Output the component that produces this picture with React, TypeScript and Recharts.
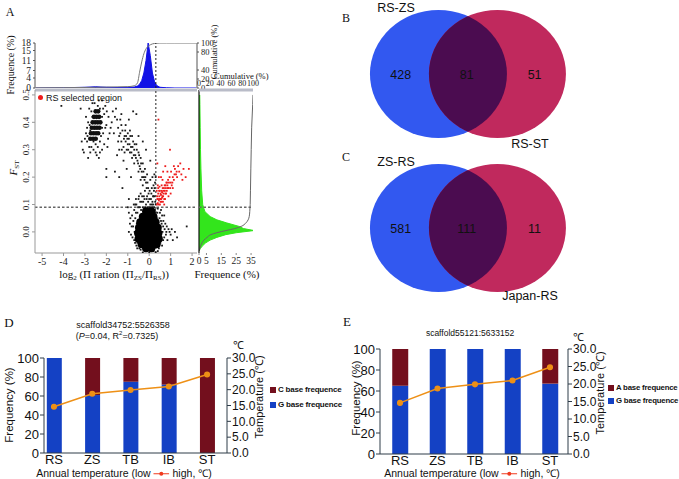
import React from "react";
import {
  Area,
  Bar,
  ComposedChart,
  Line,
  ReferenceLine,
  Scatter,
  ScatterChart,
  XAxis,
  YAxis,
} from "recharts";

const SERIF = '"Liberation Serif", "Times New Roman", serif';
const SANS = '"Liberation Sans", Arial, sans-serif';

// ---- panel A: histogram of log2 pi ratio (top) ----
const piBins = [-5.3, -4, -3, -2.5, -2, -1.5, -1, -0.7, -0.55, -0.45, -0.35, -0.25, -0.15, -0.05, 0.05, 0.15, 0.25, 0.35, 0.5, 0.8, 1.2, 2.2];
const piFreq = [0, 0.1, 0.3, 0.5, 0.3, 0.2, 0.3, 0.4, 0.8, 1.5, 3, 6, 11, 18, 13, 6, 2.5, 1, 0.3, 0.1, 0, 0];
const piCum = [0.5, 0.8, 1.2, 1.5, 2, 2.5, 3, 5, 11, 35, 58, 76, 87, 93, 96, 98, 99, 99.5, 100, 100, 100, 100];

// ---- panel A: histogram of Fst (right) ----
const fstBins = [-0.07, -0.06, -0.05, -0.04, -0.03, -0.02, -0.01, -0.003, 0.005, 0.012, 0.02, 0.033, 0.044, 0.056, 0.074, 0.09, 0.1, 0.15, 0.23, 0.3, 0.38, 0.465, 0.5];
const fstFreq = [0, 1, 2.5, 4.5, 7.5, 12, 18, 25, 37, 30, 27, 18.5, 12, 7.5, 4, 3, 2.5, 1.8, 1.3, 1, 0.8, 0.6, 0.5];
const fstCum = [0, 1.5, 3, 5.5, 9, 15, 22, 33, 50, 66, 78, 87, 91, 93, 94, 94.5, 94.8, 95.3, 96, 96.7, 97.5, 99.4, 100];

// ---- panel A: scatter (log2 pi ratio, Fst) ----
const windowsDense: [number, number][] = [
  [-0.15, -0.06], [0.1, -0.06],
  [-0.35, -0.045], [-0.1, -0.045], [0.15, -0.045], [0.35, -0.045],
  [-0.5, -0.025], [-0.25, -0.025], [0.0, -0.025], [0.25, -0.025], [0.45, -0.025],
  [-0.52, -0.005], [-0.3, -0.005], [-0.05, -0.005], [0.2, -0.005], [0.43, -0.005],
  [-0.48, 0.015], [-0.25, 0.015], [0.0, 0.015], [0.25, 0.015], [0.4, 0.015],
  [-0.42, 0.035], [-0.18, 0.035], [0.07, 0.035], [0.3, 0.035],
  [-0.3, 0.055], [-0.05, 0.055], [0.2, 0.055],
  [-0.15, 0.075], [0.1, 0.075],
];
const windowsCluster: [number, number][] = [
  [-2.75, 0.34], [-2.62, 0.34], [-2.5, 0.34],
  [-2.72, 0.36], [-2.6, 0.36], [-2.48, 0.36], [-2.38, 0.36],
  [-2.68, 0.38], [-2.56, 0.38], [-2.44, 0.38], [-2.32, 0.38],
  [-2.64, 0.4], [-2.52, 0.4], [-2.4, 0.4], [-2.28, 0.4],
  [-2.58, 0.42], [-2.46, 0.42], [-2.34, 0.42],
  [-2.5, 0.44], [-2.38, 0.44],
];
const windowsSparse: [number, number][] = [
  [-3.1, 0.3], [-2.95, 0.36], [-2.9, 0.33], [-2.85, 0.4], [-2.8, 0.31], [-2.75, 0.29], [-2.7, 0.44],
  [-2.6, 0.3], [-2.55, 0.47], [-2.5, 0.32], [-2.45, 0.28], [-2.4, 0.46], [-2.3, 0.33], [-2.3, 0.45],
  [-2.25, 0.4], [-2.2, 0.48], [-2.15, 0.36], [-2.1, 0.43], [-2.05, 0.46], [-2.0, 0.39], [-1.95, 0.31],
  [-2.35, 0.27], [-2.0, 0.23], [-2.65, 0.42], [-2.2, 0.3], [-1.9, 0.42], [-1.85, 0.36], [-2.9, 0.38],
  [-3.0, 0.34], [-2.35, 0.38],
  [-3.15, 0.33], [-3.05, 0.29], [-2.95, 0.42], [-2.85, 0.27], [-2.8, 0.45], [-2.75, 0.37], [-2.7, 0.31],
  [-2.65, 0.47], [-2.6, 0.33], [-2.45, 0.34], [-2.4, 0.31], [-2.35, 0.48], [-2.25, 0.35], [-2.2, 0.42],
  [-2.15, 0.45], [-2.1, 0.32], [-2.05, 0.38], [-1.98, 0.44], [-1.92, 0.34], [-2.3, 0.29], [-2.5, 0.29],
  [-2.78, 0.39], [-2.88, 0.35], [-2.2, 0.38], [-2.28, 0.42],
  [-1.7, 0.44], [-1.6, 0.42], [-1.55, 0.45], [-1.45, 0.38], [-1.4, 0.35], [-1.35, 0.41], [-1.3, 0.33],
  [-1.25, 0.37], [-1.2, 0.31], [-1.15, 0.35], [-1.1, 0.39], [-1.1, 0.33], [-1.05, 0.3], [-1.0, 0.36],
  [-1.0, 0.32], [-0.95, 0.34], [-0.9, 0.29], [-0.9, 0.37], [-0.85, 0.31], [-0.8, 0.35], [-0.8, 0.27],
  [-0.75, 0.33], [-0.7, 0.3], [-0.7, 0.25], [-0.65, 0.28], [-0.6, 0.32], [-0.6, 0.43], [-0.55, 0.26],
  [-0.5, 0.29], [-0.5, 0.22], [-0.45, 0.24], [-0.4, 0.27], [-0.4, 0.19], [-0.35, 0.22], [-0.3, 0.25],
  [-0.3, 0.17], [-0.25, 0.2], [-0.2, 0.15], [-0.2, 0.23], [-0.15, 0.18], [-0.1, 0.13], [-0.1, 0.21],
  [-0.05, 0.16], [0.0, 0.12], [0.05, 0.19], [0.1, 0.14], [0.15, 0.11], [0.2, 0.17], [0.25, 0.13],
  [0.3, 0.2], [0.3, 0.1], [-1.4, 0.3], [-1.2, 0.26], [-1.05, 0.23], [-0.85, 0.2], [-1.5, 0.28],
  [-1.8, 0.38], [-1.3, 0.43], [-0.95, 0.41], [-0.75, 0.44], [-0.5, 0.35], [-0.3, 0.33], [-0.15, 0.3],
  [-1.25, 0.16], [-0.95, 0.12], [-1.0, 0.09], [-0.65, 0.1], [0.05, 0.26], [-4.1, 0.46], [-3.2, 0.45],
  [-2.0, 0.2], [-1.6, 0.22], [-1.4, 0.2],
  [-1.75, 0.4], [-1.65, 0.36], [-1.5, 0.41], [-1.45, 0.33], [-1.35, 0.36], [-1.3, 0.39], [-1.28, 0.3],
  [-1.18, 0.34], [-1.15, 0.29], [-1.12, 0.37], [-1.08, 0.35], [-1.02, 0.34], [-0.98, 0.3], [-0.92, 0.32],
  [-0.88, 0.35], [-0.83, 0.29], [-0.78, 0.31], [-0.72, 0.28], [-0.68, 0.32], [-0.62, 0.27], [-0.58, 0.3],
  [-0.52, 0.25], [-0.47, 0.28], [-0.42, 0.23], [-0.38, 0.25], [-0.33, 0.2], [-0.27, 0.22], [-0.22, 0.19],
  [-0.18, 0.2], [-0.12, 0.16], [-0.08, 0.18], [-0.03, 0.14], [0.02, 0.15], [0.08, 0.12], [0.12, 0.16],
  [0.18, 0.13], [0.22, 0.15], [0.27, 0.18], [0.28, 0.11], [0.24, 0.21], [0.15, 0.2],
  [-0.9, 0.03], [-0.85, -0.01], [-0.8, 0.06], [-0.75, 0.02], [-0.7, -0.03], [-0.7, 0.08], [-0.65, 0.05],
  [-0.6, -0.05], [-0.6, 0.1], [-0.55, 0.07], [-0.5, 0.12], [-0.45, 0.09], [-0.4, 0.14], [-0.35, 0.11],
  [-0.3, 0.09], [-0.25, 0.13], [-0.15, 0.1], [-0.05, 0.11], [0.05, 0.1], [0.15, 0.09], [0.2, 0.13],
  [0.25, 0.16], [0.3, 0.07], [0.35, 0.05], [0.5, 0.07], [0.55, 0.04], [0.6, 0.06], [0.65, 0.02],
  [0.7, -0.02], [0.75, 0.03], [0.8, 0.0], [0.85, -0.03], [0.9, 0.01], [1.0, -0.01], [1.1, -0.03],
  [1.2, 0.0], [1.3, -0.02], [0.6, -0.05], [0.45, -0.06], [-0.4, -0.065], [-0.55, -0.04], [0.2, -0.07],
  [0.0, -0.075], [1.75, 0.02], [-0.95, 0.07], [0.55, 0.08], [0.7, 0.06], [0.4, 0.085],
  [-0.95, 0.0], [-0.88, 0.05], [-0.82, 0.02], [-0.78, -0.02], [-0.74, 0.04], [-0.72, 0.1], [-0.68, 0.0],
  [-0.66, -0.04], [-0.62, 0.07], [-0.62, 0.12], [-0.58, 0.03], [-0.56, -0.06], [-0.52, 0.09], [-0.48, 0.13],
  [-0.46, -0.06], [-0.42, 0.11], [-0.38, 0.08], [-0.33, 0.13], [-0.28, 0.11], [-0.22, 0.12], [-0.18, 0.09],
  [-0.12, 0.12], [-0.08, 0.09], [0.0, 0.09], [0.08, 0.09], [0.12, 0.1], [0.18, 0.1], [0.23, 0.09],
  [0.27, 0.08], [0.32, 0.06], [0.38, 0.07], [0.42, 0.04], [0.48, 0.05], [0.52, 0.02], [0.58, 0.03],
  [0.62, 0.0], [0.66, 0.04], [0.72, 0.01], [0.78, -0.01], [0.82, 0.02], [0.95, 0.0], [1.05, 0.01],
  [0.52, -0.04], [0.4, -0.07], [0.3, -0.075], [-0.3, -0.075], [-0.5, -0.05], [0.65, -0.03],
];
const windowsSelected: [number, number][] = [
  [0.36, 0.1], [0.38, 0.12], [0.4, 0.105], [0.42, 0.14], [0.45, 0.115], [0.47, 0.13], [0.5, 0.1],
  [0.5, 0.15], [0.52, 0.12], [0.55, 0.135], [0.57, 0.11], [0.6, 0.145], [0.6, 0.125], [0.63, 0.16],
  [0.65, 0.13], [0.68, 0.15], [0.7, 0.12], [0.72, 0.17], [0.75, 0.14], [0.78, 0.16], [0.8, 0.18],
  [0.82, 0.15], [0.85, 0.17], [0.88, 0.19], [0.9, 0.16], [0.95, 0.2], [1.0, 0.18], [1.02, 0.22],
  [1.05, 0.17], [1.1, 0.2], [1.15, 0.19], [1.2, 0.23], [1.25, 0.21], [1.3, 0.2], [1.35, 0.24],
  [1.4, 0.22], [1.5, 0.21], [1.55, 0.19], [1.6, 0.23], [1.7, 0.2], [1.85, 0.23], [1.45, 0.25],
  [0.97, 0.3], [0.43, 0.41], [0.55, 0.2], [0.65, 0.22], [0.75, 0.24], [0.4, 0.17], [0.45, 0.2],
  [0.35, 0.15], [0.38, 0.25], [0.7, 0.1], [0.9, 0.13], [1.0, 0.14], [1.1, 0.16], [0.62, 0.19],
  [1.15, 0.24], [0.85, 0.22], [0.48, 0.165], [0.58, 0.17],
  [0.37, 0.13], [0.41, 0.12], [0.44, 0.1], [0.46, 0.15], [0.49, 0.12], [0.53, 0.14], [0.56, 0.12],
  [0.59, 0.15], [0.62, 0.13], [0.66, 0.14], [0.69, 0.16], [0.73, 0.15], [0.76, 0.17], [0.79, 0.14],
  [0.83, 0.18], [0.87, 0.16], [0.92, 0.18], [0.98, 0.16], [1.08, 0.18], [1.18, 0.21], [1.28, 0.22],
  [0.42, 0.16], [0.53, 0.11], [0.64, 0.11], [0.74, 0.12],
];
const piTicks = [-5, -4, -3, -2, -1, 0, 1, 2];
const fstTicks = [0, 0.1, 0.2, 0.3, 0.4, 0.5];
const piCut = 0.31;
const fstCut = 0.09;

// ---- panels B and C: Venn counts ----
const vennB = { sets: ["RS-ZS", "RS-ST"], counts: [428, 81, 51] };
const vennC = { sets: ["ZS-RS", "Japan-RS"], counts: [581, 111, 11] };

// ---- panels D and E: base frequences and annual temperature ----
const stations = ["RS", "ZS", "TB", "IB", "ST"];
const annualTemp = [14.6, 18.7, 19.9, 21.0, 24.8];
const dGFreq = [100, 61, 75, 72, 0];
const dCFreq = [0, 39, 25, 28, 100];
const eGFreq = [65, 100, 100, 100, 67];
const eAFreq = [35, 0, 0, 0, 33];
const freqTicks = [0, 20, 40, 60, 80, 100];
const tempTicks = [0, 5, 10, 15, 20, 25, 30];

const X_MIN = -5.33;
const X_MAX = 2.23;
const Y_MIN = -0.077;
const Y_MAX = 0.518;

const BLUE_BAR = "#1441c4";
const RED_BAR = "#730f1d";
const ORANGE = "#ee9016";

const piTable = piBins.map((x, i) => ({ x, freq: piFreq[i], cum: piCum[i] }));
const fstTable = fstBins.map((y, i) => ({ y, freq: fstFreq[i], cum: fstCum[i] }));
const toPts = (arr: [number, number][]) => arr.map(([x, y]) => ({ x, y }));

function Txt({ x, y, size, font = SANS, rot = 0, weight = 400, italic = false, anchor = "center", spacing = 0, children }: any) {
  const tx = anchor === "left" ? "0" : "-50%";
  return (
    <div
      style={{
        position: "absolute",
        left: x,
        top: y,
        transform: `translate(${tx}, -50%) rotate(${rot}deg)`,
        fontSize: size,
        fontFamily: font,
        fontWeight: weight,
        fontStyle: italic ? "italic" : "normal",
        letterSpacing: spacing,
        whiteSpace: "nowrap",
        lineHeight: 1,
        color: "#111",
      }}
    >
      {children}
    </div>
  );
}

const subStyle = { fontSize: 7, lineHeight: 0, verticalAlign: "-2px" };

const dot = (r: number, fill: string) => (p: any) => <circle cx={p.cx} cy={p.cy} r={r} fill={fill} />;
const speck = (fill: string) => (p: any) => (
  <rect x={p.cx - 0.9} y={p.cy - 0.9} width={1.8} height={1.8} fill={fill} />
);

function FstTick(p: any) {
  const x = p.x - 1;
  return (
    <text x={x} y={p.y} transform={`rotate(-90 ${x} ${p.y})`} textAnchor="middle" fontSize={9} fontFamily={SERIF} fill="#222">
      {Number(p.payload.value).toFixed(1)}
    </text>
  );
}

function PanelA() {
  const serifTick = { fontSize: 9.5, fontFamily: SERIF, fill: "#222" };
  return (
    <>
      <div style={{ position: "absolute", left: 0, top: 30 }}>
        <ComposedChart width={240} height={70} data={piTable} margin={{ top: 13, right: 13, bottom: 12, left: 15 }}>
          <XAxis type="number" dataKey="x" domain={[X_MIN, X_MAX]} allowDataOverflow hide />
          <YAxis yAxisId="f" width={20} domain={[0, 18]} ticks={[0, 4, 7, 11, 15, 18]} allowDataOverflow interval={0}
            tick={serifTick} tickSize={2} axisLine={{ stroke: "#555" }} tickLine={{ stroke: "#555" }} />
          <YAxis yAxisId="c" orientation="right" width={30} domain={[0, 100]} ticks={[0, 20, 40, 80, 100]} allowDataOverflow interval={0}
            tick={{ ...serifTick, fontSize: 8.5 }} tickSize={2} axisLine={{ stroke: "#555" }} tickLine={{ stroke: "#555" }} />
          <Area yAxisId="f" dataKey="freq" type="linear" stroke="#1212e6" fill="#1212e6" fillOpacity={1} isAnimationActive={false} />
          <Line yAxisId="c" dataKey="cum" type="monotone" stroke="#777" strokeWidth={1} dot={false} isAnimationActive={false} />
          <ReferenceLine yAxisId="f" x={piCut} stroke="#222" strokeDasharray="2 2" />
        </ComposedChart>
      </div>

      <div style={{ position: "absolute", left: 0, top: 80 }}>
        <ScatterChart width={270} height={200} margin={{ top: 10, right: 73, bottom: 11, left: 10 }}>
          <XAxis type="number" dataKey="x" domain={[X_MIN, X_MAX]} allowDataOverflow ticks={piTicks} interval={0} height={16}
            tick={{ ...serifTick, fontSize: 10 }} tickSize={3} axisLine={{ stroke: "#999" }} tickLine={{ stroke: "#999" }} />
          <YAxis type="number" dataKey="y" domain={[Y_MIN, Y_MAX]} allowDataOverflow ticks={fstTicks} interval={0} width={25}
            tick={<FstTick />} tickSize={3} axisLine={{ stroke: "#999" }} tickLine={{ stroke: "#999" }} />
          <ReferenceLine y={Y_MAX} stroke="#b9bcc8" strokeWidth={3} />
          <Scatter data={toPts(windowsSparse)} shape={speck("#1a1a1a")} isAnimationActive={false} />
          <Scatter data={toPts(windowsCluster)} shape={dot(2.3, "#111")} isAnimationActive={false} />
          <Scatter data={toPts(windowsDense)} shape={dot(4, "#000")} isAnimationActive={false} />
          <Scatter data={toPts(windowsSelected)} shape={speck("#ee1c1c")} isAnimationActive={false} />
          <ReferenceLine x={piCut} stroke="#222" strokeDasharray="2 2" />
          <ReferenceLine y={fstCut} stroke="#666" strokeDasharray="2.5 2" strokeWidth={1.3} />
        </ScatterChart>
      </div>

      <div style={{ position: "absolute", left: 190, top: 70 }}>
        <ComposedChart width={80} height={210} layout="vertical" data={fstTable} margin={{ top: 8, right: 17, bottom: 12, left: 9 }}>
          <XAxis type="number" dataKey="freq" domain={[0, 36.3]} allowDataOverflow ticks={[0, 5, 15, 25, 35]} interval={0} height={15}
            tick={{ ...serifTick, fontSize: 9.5 }} tickSize={2} axisLine={false} tickLine={{ stroke: "#888" }} />
          <XAxis xAxisId="cum" orientation="top" type="number" domain={[0, 100]} allowDataOverflow ticks={[0, 20, 40, 60, 80, 100]} interval={0} height={12}
            tick={{ ...serifTick, fontSize: 8 }} tickSize={2} axisLine={{ stroke: "#b9bcc8", strokeWidth: 3 }} tickLine={false} />
          <YAxis type="number" dataKey="y" domain={[Y_MIN, Y_MAX]} allowDataOverflow hide reversed />
          <Area dataKey="freq" type="linear" stroke="#33e51c" fill="#33e51c" fillOpacity={1} isAnimationActive={false} />
          <Line xAxisId="cum" dataKey="cum" type="monotone" stroke="#666" strokeWidth={1} dot={false} isAnimationActive={false} />
          <ReferenceLine x={0} stroke="#111" strokeWidth={1.2} />
          <ReferenceLine y={fstCut} stroke="#666" strokeDasharray="2.5 2" strokeWidth={1.3} />
        </ComposedChart>
      </div>

      <Txt x={10} y={12} size={12} font={SERIF}>A</Txt>
      <Txt x={11} y={65} size={10} font={SERIF} rot={-90}>Frequence (%)</Txt>
      <Txt x={214} y={52} size={8.5} font={SERIF} rot={-90}>Cumulative (%)</Txt>
      <Txt x={214} y={76} size={8.5} font={SERIF} anchor="left">Cumulative (%)</Txt>
      <div style={{ position: "absolute", left: 38, top: 95, width: 5, height: 5, borderRadius: 3, background: "#ee1c1c" }} />
      <Txt x={46} y={98} size={9} anchor="left">RS selected region</Txt>
      <Txt x={13} y={168} size={11} font={SERIF} rot={-90} italic>
        F<span style={{ ...subStyle, fontStyle: "normal" }}>ST</span>
      </Txt>
      <Txt x={114} y={274} size={11} font={SERIF}>
        log<span style={subStyle}>2</span> (Π ration (Π<span style={subStyle}>ZS</span>/Π<span style={subStyle}>RS</span>))
      </Txt>
      <Txt x={227} y={274} size={11} font={SERIF}>Frequence (%)</Txt>
    </>
  );
}

const V_RX = 68.5;
const V_RY = 64;
const V_DOMAIN: [number, number] = [-1.33, 2.4];
const V_W = 220;
const V_HALF = (0.5 * V_W) / (V_DOMAIN[1] - V_DOMAIN[0]);

function Venn({ top, data, id }: { top: number; data: { sets: string[]; counts: number[] }; id: string }) {
  const lens = (p: any) => (
    <g>
      <defs>
        <clipPath id={id}>
          <ellipse cx={p.cx - V_HALF} cy={p.cy} rx={V_RX} ry={V_RY} />
        </clipPath>
      </defs>
      <ellipse cx={p.cx + V_HALF} cy={p.cy} rx={V_RX} ry={V_RY} fill="#4b0c50" clipPath={`url(#${id})`} />
    </g>
  );
  const ellipse = (fill: string) => (p: any) => <ellipse cx={p.cx} cy={p.cy} rx={V_RX} ry={V_RY} fill={fill} />;
  const labelPos = [-0.64, 0.48, 1.63];
  const labels = data.counts.map((c, i) => ({ x: labelPos[i], y: 0, c }));
  const countText = (p: any) => (
    <text x={p.cx} y={p.cy + 4.5} textAnchor="middle" fontSize={12.5} fontFamily={SANS} fill="#111">
      {p.payload.c}
    </text>
  );
  return (
    <div style={{ position: "absolute", left: 360, top }}>
      <ScatterChart width={V_W} height={150} margin={{ top: 0, right: 0, bottom: 0, left: 0 }}>
        <XAxis type="number" dataKey="x" domain={V_DOMAIN} allowDataOverflow hide />
        <YAxis type="number" dataKey="y" domain={[-1, 1]} allowDataOverflow hide />
        <Scatter data={[{ x: 0, y: 0 }]} shape={ellipse("#3258f0")} isAnimationActive={false} />
        <Scatter data={[{ x: 1, y: 0 }]} shape={ellipse("#c0295d")} isAnimationActive={false} />
        <Scatter data={[{ x: 0.5, y: 0 }]} shape={lens} isAnimationActive={false} />
        <Scatter data={labels} shape={countText} isAnimationActive={false} />
      </ScatterChart>
    </div>
  );
}

function BaseChart(props: any) {
  const { left, top, width, height, margin, domain, lower, upper, upperColor, barSize } = props;
  const rows = stations.map((s, i) => ({ i, lower: lower[i], upper: upper[i], t: annualTemp[i] }));
  const axis = { stroke: "#2e3c48" };
  const tick = { fontSize: 13, fontFamily: SANS, fill: "#111" };
  return (
    <div style={{ position: "absolute", left, top }}>
      <ComposedChart width={width} height={height} data={rows} margin={margin}>
        <XAxis type="number" dataKey="i" domain={domain} allowDataOverflow ticks={[0, 1, 2, 3, 4]} interval={0}
          tickFormatter={(v: number) => stations[v]} height={15} tick={tick} tickSize={0} tickMargin={2} axisLine={axis} />
        <YAxis yAxisId="f" domain={[0, 100]} ticks={freqTicks} interval={0} width={30} allowDataOverflow
          tick={tick} tickSize={4} tickMargin={1} axisLine={axis} tickLine={axis} />
        <YAxis yAxisId="t" orientation="right" domain={[0, 30]} ticks={tempTicks} interval={0} width={35} allowDataOverflow
          tickFormatter={(v: number) => v.toFixed(1)} tick={{ ...tick, fontSize: 12 }} tickSize={4} tickMargin={1} axisLine={axis} tickLine={axis} />
        <Bar yAxisId="f" dataKey="lower" stackId="s" fill={BLUE_BAR} barSize={barSize} isAnimationActive={false} />
        <Bar yAxisId="f" dataKey="upper" stackId="s" fill={upperColor} barSize={barSize} isAnimationActive={false} />
        <Line yAxisId="t" dataKey="t" type="linear" stroke={ORANGE} strokeWidth={1.5}
          dot={{ r: 2.3, fill: ORANGE, stroke: ORANGE }} isAnimationActive={false} />
      </ComposedChart>
    </div>
  );
}

function LegendItem({ x, y, color, text, size }: any) {
  return (
    <>
      <div style={{ position: "absolute", left: x, top: y - 3, width: 6, height: 6, background: color }} />
      <Txt x={x + 8} y={y} size={size} weight={600} spacing={-0.2} anchor="left">{text}</Txt>
    </>
  );
}

function ArrowLabel({ x, y, size }: any) {
  return (
    <Txt x={x} y={y} size={size}>
      Annual temperature (low{" "}
      <svg width={16} height={6} style={{ verticalAlign: "middle" }}>
        <line x1={0} y1={3} x2={16} y2={3} stroke="#f03a1e" strokeWidth={1.2} />
        <circle cx={8} cy={3} r={2} fill="#f03a1e" />
      </svg>{" "}
      high, ℃)
    </Txt>
  );
}

export default function App() {
  return (
    <div style={{ position: "absolute", left: 0, top: 0, width: 679, height: 479, background: "#fff", overflow: "hidden" }}>
      <PanelA />

      <Venn top={-1} data={vennB} id="clipB" />
      <Venn top={153} data={vennC} id="clipC" />
      <Txt x={346} y={18} size={12} font={SERIF}>B</Txt>
      <Txt x={346} y={157} size={12} font={SERIF}>C</Txt>
      <Txt x={396} y={8} size={12.5}>{vennB.sets[0]}</Txt>
      <Txt x={530} y={144} size={12.5}>{vennB.sets[1]}</Txt>
      <Txt x={396} y={162} size={12.5}>{vennC.sets[0]}</Txt>
      <Txt x={530} y={296} size={12.5}>{vennC.sets[1]}</Txt>

      <BaseChart left={0} top={340} width={340} height={139} margin={{ top: 18, right: 78, bottom: 11, left: 14 }}
        domain={[-0.26, 4.52]} lower={dGFreq} upper={dCFreq} upperColor={RED_BAR} barSize={15} />
      <Txt x={9} y={322} size={13} font={SERIF}>D</Txt>
      <Txt x={123} y={325} size={9}>scaffold34752:5526358</Txt>
      <Txt x={117} y={336} size={9}>
        (<i>P</i>=0.04, R<sup style={{ fontSize: 6, lineHeight: 0 }}>2</sup>=0.7325)
      </Txt>
      <Txt x={238} y={345} size={11}>℃</Txt>
      <Txt x={10} y={405} size={11.5} rot={-90}>Frequency (%)</Txt>
      <Txt x={259} y={397} size={11} rot={-90}>Temperature (℃)</Txt>
      <LegendItem x={270} y={390} color={RED_BAR} text="C base frequence" size={8} />
      <LegendItem x={270} y={405} color={BLUE_BAR} text="G base frequence" size={8} />
      <ArrowLabel x={124} y={473} size={10.5} />

      <BaseChart left={340} top={330} width={339} height={149} margin={{ top: 19, right: 76, bottom: 10, left: 10 }}
        domain={[-0.533, 4.48]} lower={eGFreq} upper={eAFreq} upperColor={RED_BAR} barSize={16} />
      <Txt x={347} y={321} size={13} font={SERIF}>E</Txt>
      <Txt x={470} y={333} size={8.5}>scaffold55121:5633152</Txt>
      <Txt x={578} y={337} size={11}>℃</Txt>
      <Txt x={357} y={398} size={11.5} rot={-90}>Frequency (%)</Txt>
      <Txt x={600} y={393} size={11} rot={-90}>Temperature (℃)</Txt>
      <LegendItem x={608} y={388} color={RED_BAR} text="A base frequence" size={7.8} />
      <LegendItem x={608} y={401} color={BLUE_BAR} text="G base frequence" size={7.8} />
      <ArrowLabel x={472} y={473} size={10.5} />
    </div>
  );
}
